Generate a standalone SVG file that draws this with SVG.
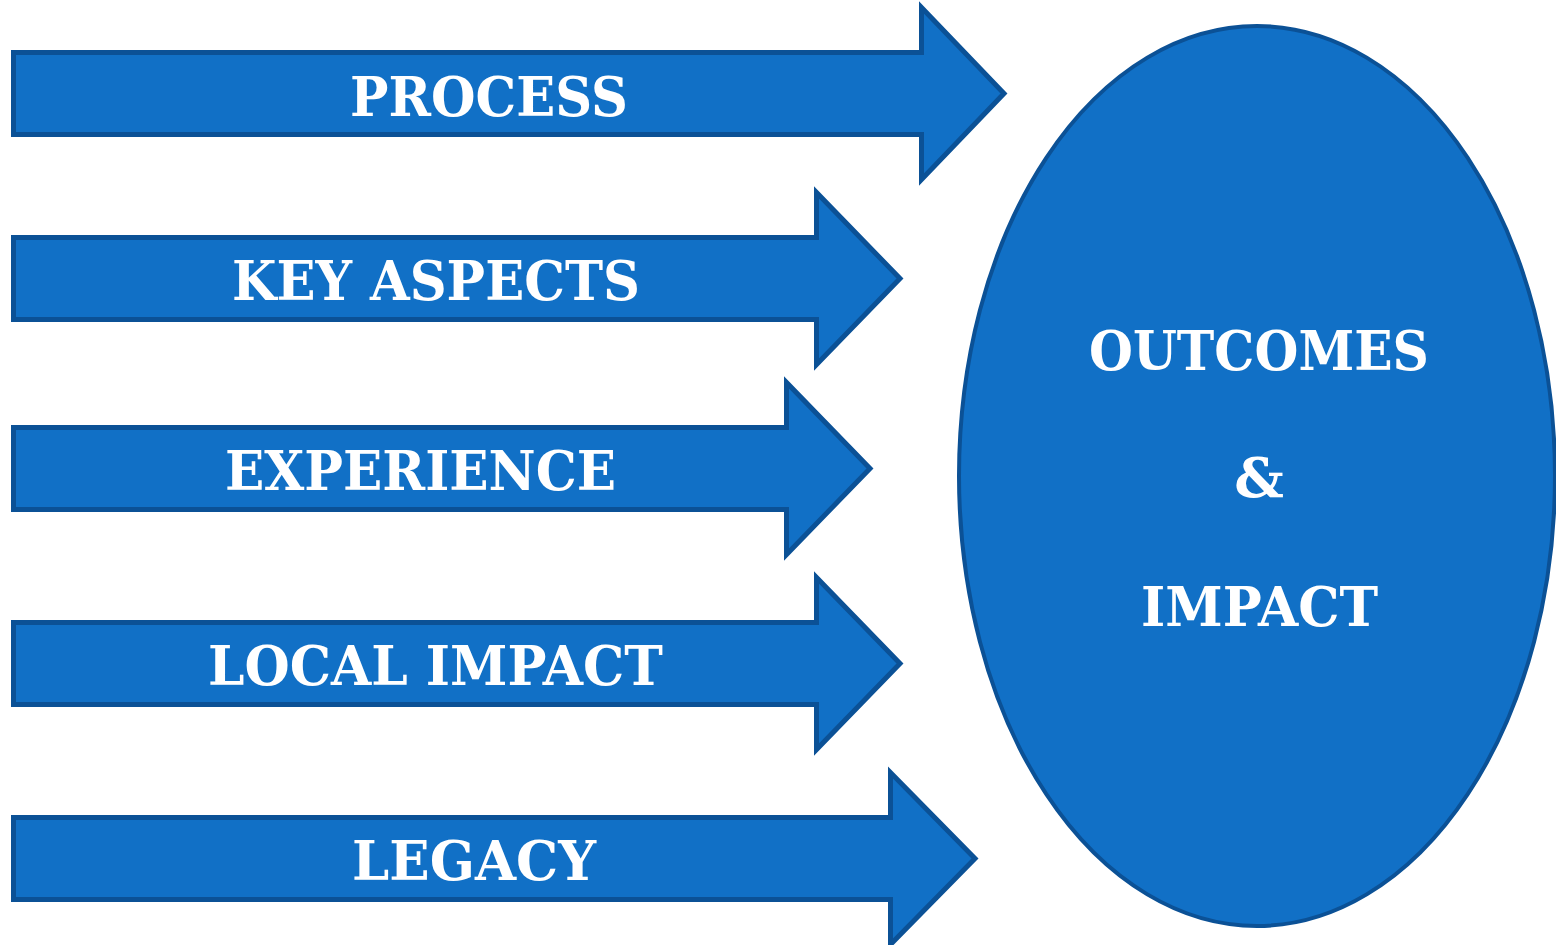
<svg xmlns="http://www.w3.org/2000/svg" width="1556" height="945" viewBox="0 0 1556 945">
<style>
.shape{fill:#1170c6;stroke:#0b5196;stroke-width:5;stroke-linejoin:miter}
.lbl{font-family:"DejaVu Serif","Liberation Serif",serif;font-weight:bold;font-size:55px;fill:#ffffff;text-anchor:middle}
</style>
<rect width="1556" height="945" fill="#ffffff"/>
<g id="process">
<polygon class="shape" points="13.5,52.5 921.5,52.5 921.5,7.5 1004,93.5 921.5,179.5 921.5,134.5 13.5,134.5"/>
<text class="lbl" x="489" y="116" textLength="278" lengthAdjust="spacingAndGlyphs">PROCESS</text>
</g>
<g id="key-aspects">
<polygon class="shape" points="13.5,237.5 816.5,237.5 816.5,192.5 900,278.5 816.5,364.5 816.5,319.5 13.5,319.5"/>
<text class="lbl" x="436" y="300" textLength="408" lengthAdjust="spacingAndGlyphs">KEY ASPECTS</text>
</g>
<g id="experience">
<polygon class="shape" points="13.5,427.5 786.5,427.5 786.5,382.5 870,468.5 786.5,554.5 786.5,509.5 13.5,509.5"/>
<text class="lbl" x="420.5" y="490" textLength="391" lengthAdjust="spacingAndGlyphs">EXPERIENCE</text>
</g>
<g id="local-impact">
<polygon class="shape" points="13.5,622.5 816.5,622.5 816.5,577.5 900,663.5 816.5,749.5 816.5,704.5 13.5,704.5"/>
<text class="lbl" x="435.5" y="685" textLength="455" lengthAdjust="spacingAndGlyphs">LOCAL IMPACT</text>
</g>
<g id="legacy">
<polygon class="shape" points="13.5,817.5 890.5,817.5 890.5,772.5 975,858.5 890.5,944.5 890.5,899.5 13.5,899.5"/>
<text class="lbl" x="474" y="880" textLength="244" lengthAdjust="spacingAndGlyphs">LEGACY</text>
</g>
<g id="outcomes-impact">
<ellipse class="shape" cx="1257" cy="476" rx="298" ry="450" style="stroke-width:4"/>
<text class="lbl" x="1259" y="370" textLength="340" lengthAdjust="spacingAndGlyphs">OUTCOMES</text>
<text class="lbl" x="1259" y="497">&amp;</text>
<text class="lbl" x="1259.5" y="626" textLength="237" lengthAdjust="spacingAndGlyphs">IMPACT</text>
</g>
<g id="connectors"></g>
</svg>
